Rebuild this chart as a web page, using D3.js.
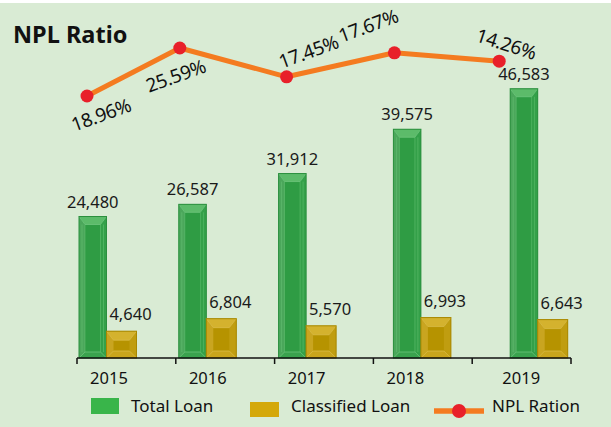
<!DOCTYPE html>
<html>
<head>
<meta charset="utf-8">
<script src="https://cdn.jsdelivr.net/npm/d3@7"></script>
<style>
  body { margin: 0; background: #ffffff; }
  svg { display: block; font-family: "Noto Sans", sans-serif; }
</style>
</head>
<body>
<script>
// chart data
var years = ["2015", "2016", "2017", "2018", "2019"];
var totalLoan = [24480, 26587, 31912, 39575, 46583];
var classifiedLoan = [4640, 6804, 5570, 6993, 6643];
var nplRatio = [18.96, 25.59, 17.45, 17.67, 14.26];
// level at which each NPL point is drawn in the picture (not proportional to the ratio)
var nplLevel = [14, 26, 18.8, 24.8, 22.7];

// layout tweaks (px), the groups are not evenly spaced
var barShift = [2, 3, 4, 20, 38];
var dotShift = [10, 4, 12, 21, 27];
var yearShift = [32, 32, 32, 32, 49];

var W = 611, H = 427;
var baseY = 358;

var svg = d3.select("body").append("svg")
    .attr("width", W)
    .attr("height", H);

svg.append("rect").attr("width", W).attr("height", H).attr("fill", "#ffffff");
svg.append("rect").attr("x", 0).attr("y", 3).attr("width", W).attr("height", H - 3)
    .attr("fill", "#d9ebd4");

//scales
var x = d3.scaleBand().domain(years).range([77, 571]).paddingInner(0).paddingOuter(0);
var y = d3.scaleLinear().domain([0, 50000]).range([baseY, baseY - 289]);
var y2 = d3.scaleLinear().domain([14, 26]).range([96, 48]);

var greenW = 27.5, goldW = 30;

//draws a bevelled box
function bevel(g, bx, by, bw, bh, b, bt, c) {
    var bb = Math.min(bt, bh / 2.5);
    var bd = Math.min(b, bh / 3);
    g.append("rect").attr("x", bx).attr("y", by).attr("width", bw).attr("height", bh).attr("fill", c.center);
    // faces
    g.append("path").attr("fill", c.top)
        .attr("d", "M" + bx + "," + by + "L" + (bx + bw) + "," + by + "L" + (bx + bw - b) + "," + (by + bb) + "L" + (bx + b) + "," + (by + bb) + "Z");
    g.append("path").attr("fill", c.bottom)
        .attr("d", "M" + bx + "," + (by + bh) + "L" + (bx + bw) + "," + (by + bh) + "L" + (bx + bw - b) + "," + (by + bh - bd) + "L" + (bx + b) + "," + (by + bh - bd) + "Z");
    g.append("path").attr("fill", c.left)
        .attr("d", "M" + bx + "," + by + "L" + (bx + b) + "," + (by + bb) + "L" + (bx + b) + "," + (by + bh - bd) + "L" + bx + "," + (by + bh) + "Z");
    g.append("path").attr("fill", c.right)
        .attr("d", "M" + (bx + bw) + "," + by + "L" + (bx + bw - b) + "," + (by + bb) + "L" + (bx + bw - b) + "," + (by + bh - bd) + "L" + (bx + bw) + "," + (by + bh) + "Z");
    // light inner lines
    g.append("path").attr("stroke", c.line).attr("stroke-width", 0.7).attr("fill", "none")
        .attr("d", "M" + bx + "," + by + "L" + (bx + b) + "," + (by + bb) +
            "M" + (bx + bw) + "," + by + "L" + (bx + bw - b) + "," + (by + bb) +
            "M" + bx + "," + (by + bh) + "L" + (bx + b) + "," + (by + bh - bd) +
            "M" + (bx + bw) + "," + (by + bh) + "L" + (bx + bw - b) + "," + (by + bh - bd) +
            "M" + (bx + b) + "," + (by + bb) + "H" + (bx + bw - b) +
            "M" + (bx + b) + "," + (by + bh - bd) + "H" + (bx + bw - b));
    g.append("rect").attr("x", bx).attr("y", by).attr("width", bw).attr("height", bh)
        .attr("fill", "none").attr("stroke", c.edge).attr("stroke-width", 1);
}

var greenC = { center: "#2f9c44", top: "#5cbb6a", bottom: "#3aa24e", left: "#4ba75b", right: "#34a049", line: "#74c983", edge: "#2b8f3e" };
var goldC = { center: "#b69300", top: "#d4b22e", bottom: "#c9a51c", left: "#c9a520", right: "#c09d10", line: "#dcc050", edge: "#a88800" };

var bars = svg.append("g").attr("class", "bars");
years.forEach(function (yr, i) {
    var gx = x(yr) + barShift[i];
    var g = bars.append("g");
    var ty = y(totalLoan[i]);
    bevel(g, gx, ty, greenW, baseY - ty, 6, 8, greenC);
    // extra vertical strips in the green bar
    [3, 6, greenW - 6, greenW - 3].forEach(function (o) {
        g.append("line").attr("x1", gx + o).attr("x2", gx + o).attr("y1", ty + 8).attr("y2", baseY - 6)
            .attr("stroke", "#6cc77a").attr("stroke-width", 0.6).attr("opacity", 0.8);
    });
    var cy = y(classifiedLoan[i]);
    bevel(g, gx + greenW, cy, goldW, baseY - cy, 7, 9, goldC);

    svg.append("text").attr("x", gx + greenW / 2).attr("y", ty - 9)
        .attr("text-anchor", "middle").attr("font-size", 16.5).attr("fill", "#1a1a1a")
        .text(d3.format(",")(totalLoan[i]));
    svg.append("text").attr("x", gx + greenW + goldW / 2 + 9).attr("y", cy - 11)
        .attr("text-anchor", "middle").attr("font-size", 16.5).attr("fill", "#1a1a1a")
        .text(d3.format(",")(classifiedLoan[i]));
});

//axis
var axis = svg.append("g");
axis.append("line").attr("x1", x.range()[0]).attr("x2", x.range()[1]).attr("y1", baseY).attr("y2", baseY)
    .attr("stroke", "#111").attr("stroke-width", 1.5);
var tickXs = years.map(function (d) { return x(d); }).concat([x.range()[1]]);
axis.selectAll(".tk").data(tickXs).enter().append("line")
    .attr("x1", function (d) { return d; }).attr("x2", function (d) { return d; })
    .attr("y1", baseY).attr("y2", baseY + 6)
    .attr("stroke", "#111").attr("stroke-width", 1.5);
axis.selectAll(".yl").data(years).enter().append("text")
    .attr("x", function (d, i) { return x(d) + yearShift[i]; })
    .attr("y", 384)
    .attr("text-anchor", "middle").attr("font-size", 16.5).attr("fill", "#111")
    .text(function (d) { return d; });

//npl line
var pts = years.map(function (d, i) { return [x(d) + dotShift[i], y2(nplLevel[i])]; });
svg.append("path").datum(pts)
    .attr("d", d3.line())
    .attr("fill", "none").attr("stroke", "#f47b20").attr("stroke-width", 5)
    .attr("stroke-linejoin", "round");
svg.selectAll(".dot").data(pts).enter().append("circle")
    .attr("cx", function (d) { return d[0]; }).attr("cy", function (d) { return d[1]; })
    .attr("r", 6.5).attr("fill", "#e8202a");

// label offsets from the points and rotation
var lblOff = [[14, 19, -20], [-4, 28, -20], [22, -25, -20], [-26, -27, -20], [7, -17, 18]];
svg.selectAll(".npl").data(nplRatio).enter().append("text")
    .attr("transform", function (d, i) {
        return "translate(" + (pts[i][0] + lblOff[i][0]) + "," + (pts[i][1] + lblOff[i][1]) + ") rotate(" + lblOff[i][2] + ")";
    })
    .attr("text-anchor", "middle").attr("dy", "0.35em")
    .attr("font-size", 19).attr("letter-spacing", -0.4).attr("fill", "#111")
    .text(function (d) { return d.toFixed(2) + "%"; });

//title
svg.append("text").attr("x", 13).attr("y", 43)
    .attr("font-size", 23.5).attr("font-weight", "bold").attr("fill", "#111")
    .text("NPL Ratio");

//legend
var lg = svg.append("g");
lg.append("rect").attr("x", 91).attr("y", 398).attr("width", 28).attr("height", 16).attr("fill", "#39b54a");
lg.append("text").attr("x", 131).attr("y", 412).attr("font-size", 17).attr("fill", "#111").text("Total Loan");
lg.append("rect").attr("x", 250).attr("y", 402).attr("width", 29).attr("height", 15).attr("fill", "#d4a80a");
lg.append("text").attr("x", 291).attr("y", 412).attr("font-size", 17).attr("fill", "#111").text("Classified Loan");
lg.append("line").attr("x1", 434).attr("x2", 484).attr("y1", 411).attr("y2", 411)
    .attr("stroke", "#f47b20").attr("stroke-width", 5.5);
lg.append("circle").attr("cx", 459).attr("cy", 411).attr("r", 7).attr("fill", "#e8202a");
lg.append("text").attr("x", 492).attr("y", 412).attr("font-size", 17).attr("fill", "#111").text("NPL Ration");
</script>
</body>
</html>
